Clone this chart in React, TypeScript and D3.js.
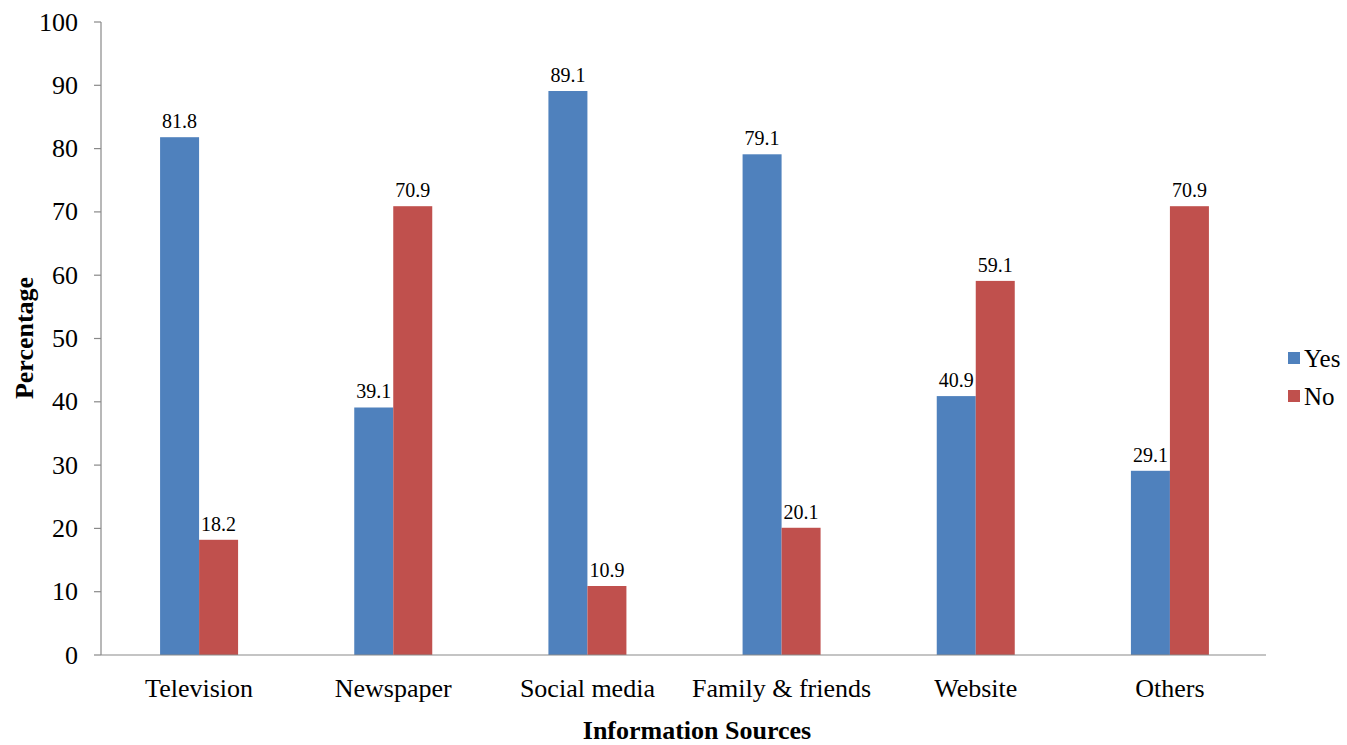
import React from "react";
import * as d3 from "d3";

const categories = ["Television", "Newspaper", "Social media", "Family & friends", "Website", "Others"];
const seriesNames = ["Yes", "No"];
const yesValues = [81.8, 39.1, 89.1, 79.1, 40.9, 29.1];
const noValues = [18.2, 70.9, 10.9, 20.1, 59.1, 70.9];
const yTicks = [0, 10, 20, 30, 40, 50, 60, 70, 80, 90, 100];
const colors = ["#4F81BD", "#C0504D"];

const W = 1347;
const H = 745;
const left = 101;
const right = 1266;
const top = 22;
const bottom = 655;

export default function App() {
  const x = d3.scaleBand<string>().domain(categories).range([left, right]).paddingInner(0).paddingOuter(0);
  const y = d3.scaleLinear().domain([0, 100]).range([bottom, top]);
  const barW = 39;
  const series = [yesValues, noValues];
  const font = "'Liberation Serif', 'Times New Roman', serif";
  return (
    <svg width={W} height={H} style={{ position: "absolute", left: 0, top: 0, background: "#fff" }} fontFamily={font}>
      <rect x={0} y={0} width={W} height={H} fill="#fff" />
      {/* y axis */}
      <line x1={left} x2={left} y1={top} y2={bottom} stroke="#898989" strokeWidth={1.2} />
      {yTicks.map((t) => (
        <g key={t}>
          <line x1={left - 7} x2={left} y1={y(t)} y2={y(t)} stroke="#898989" strokeWidth={1.2} />
          <text x={left - 23} y={y(t)} dy="0.33em" textAnchor="end" fontSize={26} fill="#000">
            {t}
          </text>
        </g>
      ))}
      {/* bars */}
      {categories.map((c, i) => {
        const cx = (x(c) as number) + x.bandwidth() / 2 + 1;
        return series.map((vals, s) => {
          const bx = cx - barW + s * barW;
          const v = vals[i];
          return (
            <g key={c + s}>
              <rect x={bx} y={y(v)} width={barW} height={bottom - y(v)} fill={colors[s]} />
              <text x={bx + barW / 2} y={y(v) - 9} textAnchor="middle" fontSize={20} fill="#000">
                {v.toFixed(1)}
              </text>
            </g>
          );
        });
      })}
      {/* x axis */}
      <line x1={left} x2={right} y1={bottom} y2={bottom} stroke="#898989" strokeWidth={1.2} />
      {categories.map((c) => (
        <text key={c} x={(x(c) as number) + x.bandwidth() / 2 + 1} y={697} textAnchor="middle" fontSize={26} fill="#000">
          {c}
        </text>
      ))}
      <text x={697} y={739} textAnchor="middle" fontSize={26} fontWeight="bold" fill="#000">
        Information Sources
      </text>
      <text transform={`translate(33, 338) rotate(-90)`} textAnchor="middle" fontSize={26} fontWeight="bold" fill="#000">
        Percentage
      </text>
      {/* legend */}
      {seriesNames.map((n, i) => (
        <g key={n}>
          <rect x={1288} y={352 + i * 38} width={12} height={12} fill={colors[i]} />
          <text x={1304} y={358 + i * 38} dy="0.35em" fontSize={25} fill="#000">
            {n}
          </text>
        </g>
      ))}
    </svg>
  );
}
